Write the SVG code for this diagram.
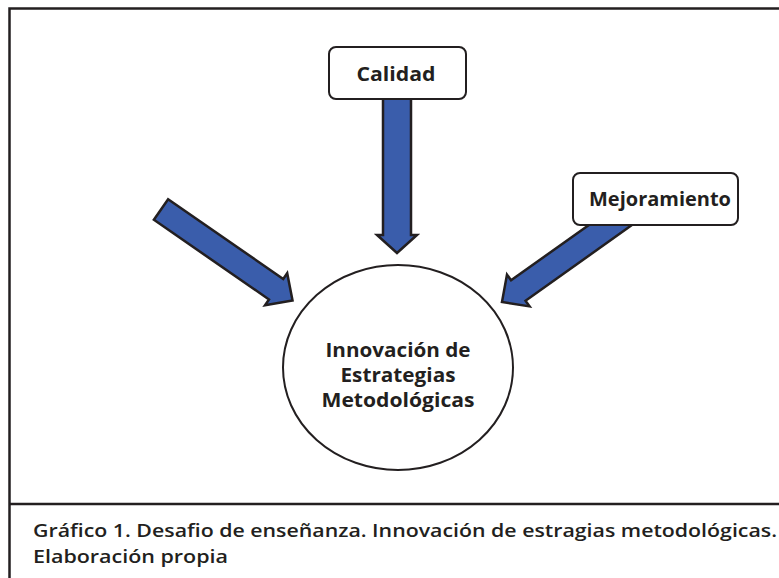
<svg xmlns="http://www.w3.org/2000/svg" width="779" height="578" viewBox="0 0 779 578">
<style>
.frame{fill:none;stroke:#231f20;stroke-width:2.5}
.box{fill:#fff;stroke:#231f20;stroke-width:2}
.arrow{fill:#3a5dab;stroke:#231f20;stroke-width:2.5;stroke-linejoin:miter}
.lbl{font-family:"Open Sans","Liberation Sans",sans-serif;font-weight:700;font-size:20px;fill:#231f20;text-anchor:middle}
.cap{font-family:"Open Sans","Liberation Sans",sans-serif;font-weight:600;font-size:18px;fill:#231f20}
</style>
<defs>
<polygon id="diag" points="0,-12.5 140,-12.5 140,-19.5 160,0 140,19.5 140,12.5 0,12.5"/>
</defs>
<rect x="0" y="0" width="779" height="578" fill="#fff"/>
<g id="frame">
<path class="frame" d="M9.5,578 V8.5 H779"/>
<line class="frame" x1="9.5" y1="504" x2="779" y2="504"/>
</g>
<g id="connectors">
<use href="#diag" class="arrow" transform="translate(161,209.5) rotate(34.7)"/>
<use href="#diag" class="arrow" transform="translate(632.4,209.4) rotate(144.6)"/>
<polygon class="arrow" points="383,96 411,96 411,235 417,235 397,253 377,235 383,235"/>
</g>
<g id="calidad">
<rect class="box" x="329" y="47" width="137" height="52" rx="7"/>
<text class="lbl" x="396" y="80.5" textLength="79" lengthAdjust="spacingAndGlyphs">Calidad</text>
</g>
<g id="mejoramiento">
<rect class="box" x="573" y="173" width="165" height="52" rx="7"/>
<text class="lbl" x="660" y="205.5" textLength="142" lengthAdjust="spacingAndGlyphs">Mejoramiento</text>
</g>
<g id="innovacion">
<ellipse cx="398" cy="367.5" rx="115" ry="102.5" fill="#fff" stroke="#231f20" stroke-width="2"/>
<text class="lbl" x="398" y="357" textLength="145" lengthAdjust="spacingAndGlyphs">Innovación de</text>
<text class="lbl" x="398" y="382" textLength="115" lengthAdjust="spacingAndGlyphs">Estrategias</text>
<text class="lbl" x="398" y="407" textLength="153" lengthAdjust="spacingAndGlyphs">Metodológicas</text>
</g>
<g id="caption">
<text class="cap" x="33" y="536.5" textLength="744" lengthAdjust="spacingAndGlyphs">Gráfico 1. Desafio de enseñanza. Innovación de estragias metodológicas.</text>
<text class="cap" x="33" y="562.5" textLength="195" lengthAdjust="spacingAndGlyphs">Elaboración propia</text>
</g>
</svg>
